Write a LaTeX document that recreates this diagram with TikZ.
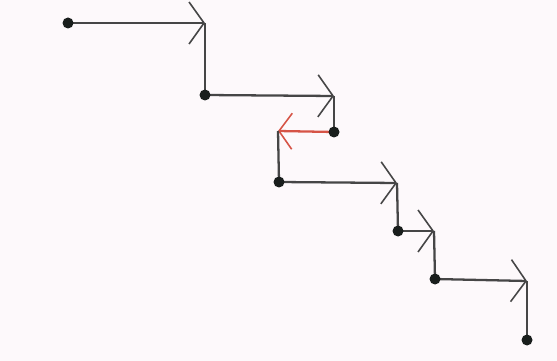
\documentclass[tikz,border=0pt]{standalone}
\usepackage{xcolor}
\usetikzlibrary{arrows.meta}
\definecolor{bgpink}{RGB}{253,249,251}
\definecolor{linegray}{RGB}{70,70,70}
\definecolor{tipred}{RGB}{214,84,70}
\definecolor{dotblack}{RGB}{25,30,28}
\begin{document}
\begin{tikzpicture}[x=0.02cm, y=-0.02cm,
    seg/.style={draw=linegray, line width=1.3pt},
    stepline/.style={seg, -{Straight Barb[length=0.3cm, width=0.84cm, line width=0.9pt]}},
    backline/.style={draw=tipred, line width=1.3pt, -{Straight Barb[length=0.26cm, width=0.72cm, line width=0.9pt]}},
    dot/.style={circle, fill=dotblack, inner sep=0pt, minimum width=0.2cm, minimum height=0.22cm}]
        \fill[bgpink] (0,0) rectangle (557,361);
        \useasboundingbox (0,0) rectangle (557,361);

        % points of the walk
        \coordinate (a) at (68,23);
        \coordinate (b) at (205,95);
        \coordinate (c) at (334,132);
        \coordinate (d) at (279,182);
        \coordinate (e) at (398,231);
        \coordinate (f) at (435,279);
        \coordinate (g) at (527,340);
        % corners
        \coordinate (ab) at (205,23);
        \coordinate (bc) at (334,96);
        \coordinate (cd) at (278,131);
        \coordinate (de) at (397,183);
        \coordinate (ef) at (434,231);
        \coordinate (fg) at (527,281);

        \draw[stepline] (a) -- (ab);
        \draw[seg] (ab) -- (b);
        \draw[stepline] (b) -- (bc);
        \draw[seg] (bc) -- (c);
        \draw[backline] (c) -- (cd);
        \draw[seg] (cd) -- (d);
        \draw[stepline] (d) -- (de);
        \draw[seg] (de) -- (e);
        \draw[stepline] (e) -- (ef);
        \draw[seg] (ef) -- (f);
        \draw[stepline] (f) -- (fg);
        \draw[seg] (fg) -- (g);

        % dots
        \node[dot] (da) at (a) {};
        \node[dot] (db) at (b) {};
        \node[dot] (dc) at (c) {};
        \node[dot] (dd) at (d) {};
        \node[dot] (de2) at (e) {};
        \node[dot] (df) at (f) {};
        \node[dot] (dg) at (g) {};
\end{tikzpicture}
\end{document}
